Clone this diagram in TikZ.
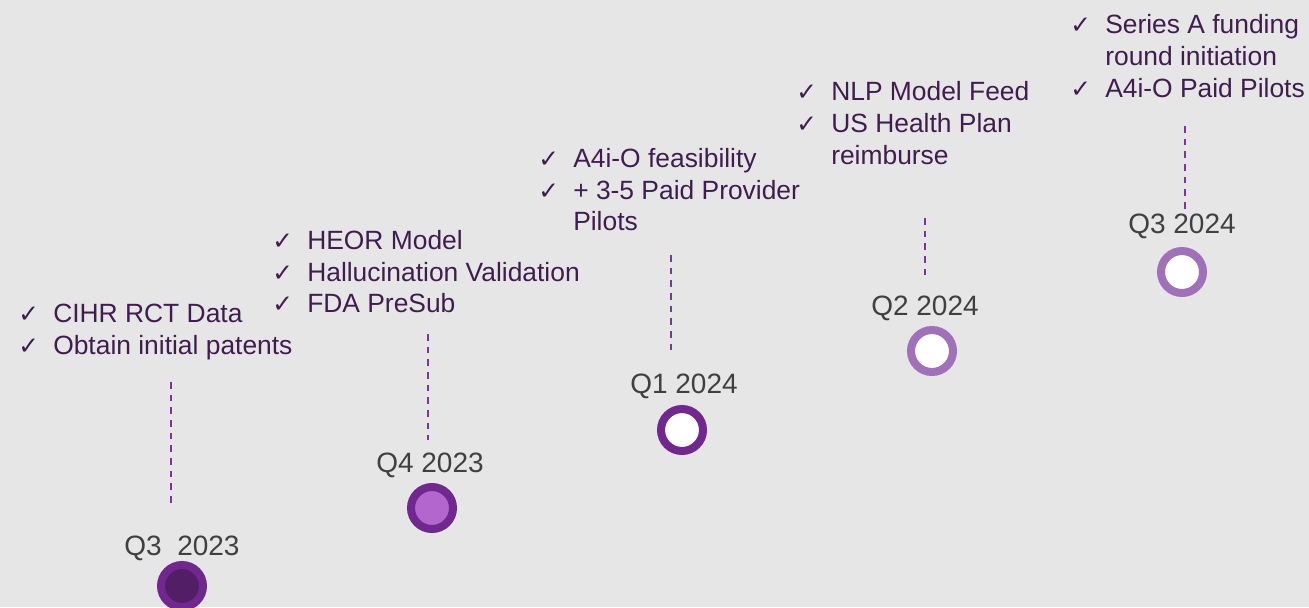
\documentclass[tikz,border=0pt]{standalone}
\usepackage{fontspec}
\setmainfont{Liberation Sans}
\newfontfamily\dejavu{DejaVu Sans}
\definecolor{bgc}{HTML}{E7E6E6}
\definecolor{txt}{HTML}{3F1D4F}
\definecolor{lbl}{HTML}{404040}
\definecolor{ring}{HTML}{70278E}
\definecolor{ringlt}{HTML}{A070B8}
\definecolor{dotdark}{HTML}{521E66}
\definecolor{dotlilac}{HTML}{B366CC}
\definecolor{dashc}{HTML}{7A35A0}
\tikzset{
  item/.style={anchor=base west, inner sep=0pt, text=txt, font=\fontsize{19.8}{24}\selectfont},
  chk/.style={anchor=base west, inner sep=0pt, text=txt, font=\dejavu\fontsize{18.5}{22}\selectfont},
  qlabel/.style={anchor=base, inner sep=0pt, text=lbl, font=\fontsize{21}{25}\selectfont},
  dot/.style={circle, inner sep=0pt, minimum size=31.5pt, line width=6pt},
  guide/.style={draw=dashc, line width=1.5pt, dash pattern=on 5pt off 4.5pt},
}
\begin{document}
\begin{tikzpicture}[x=0.75pt,y=-0.75pt]
\fill[bgc] (0,0) rectangle (1309,607);
\useasboundingbox (0,0) rectangle (1309,607);

% group 1
\node[chk] (c1a) at (18,322) {✓};
\node[item] (t1a) at (53,322) {CIHR RCT Data};
\node[chk] (c1b) at (18,354) {✓};
\node[item] (t1b) at (53,354) {Obtain initial patents};
\coordinate (d1s) at (171,382);
\coordinate (d1e) at (171,508);
\draw[guide] (d1s) -- (d1e);
\node[qlabel] (q1) at (182,555) {Q3\ \ 2023};
\node[dot, draw=ring, fill=dotdark] (m1) at (182,586) {};

% group 2
\node[chk] (c2a) at (272,249) {✓};
\node[item] (t2a) at (307,249) {HEOR Model};
\node[chk] (c2b) at (272,281) {✓};
\node[item] (t2b) at (307,281) {Hallucination Validation};
\node[chk] (c2c) at (272,312) {✓};
\node[item] (t2c) at (307,312) {FDA PreSub};
\coordinate (d2s) at (428,334);
\coordinate (d2e) at (428,440);
\draw[guide] (d2s) -- (d2e);
\node[qlabel] (q2) at (430,472) {Q4 2023};
\node[dot, draw=ring, fill=dotlilac] (m2) at (432,508) {};

% group 3
\node[chk] (c3a) at (538,167) {✓};
\node[item] (t3a) at (573,167) {A4i-O feasibility};
\node[chk] (c3b) at (538,199) {✓};
\node[item] (t3b) at (573,199) {+ 3-5 Paid Provider};
\node[item] (t3c) at (573,230) {Pilots};
\coordinate (d3s) at (671,255);
\coordinate (d3e) at (671,354);
\draw[guide] (d3s) -- (d3e);
\node[qlabel] (q3) at (684,393) {Q1 2024};
\node[dot, draw=ring, fill=white] (m3) at (682,430) {};

% group 4
\node[chk] (c4a) at (796,100) {✓};
\node[item] (t4a) at (831,100) {NLP Model Feed};
\node[chk] (c4b) at (796,132) {✓};
\node[item] (t4b) at (831,132) {US Health Plan};
\node[item] (t4c) at (831,164) {reimburse};
\coordinate (d4s) at (925,218);
\coordinate (d4e) at (925,278);
\draw[guide] (d4s) -- (d4e);
\node[qlabel] (q4) at (925,315) {Q2 2024};
\node[dot, draw=ringlt, fill=white] (m4) at (932,351) {};

% group 5
\node[chk] (c5a) at (1070,33) {✓};
\node[item] (t5a) at (1105,33) {Series A funding};
\node[item] (t5b) at (1105,65) {round initiation};
\node[chk] (c5c) at (1070,97) {✓};
\node[item] (t5c) at (1105,97) {A4i-O Paid Pilots};
\coordinate (d5s) at (1185,126);
\coordinate (d5e) at (1185,212);
\draw[guide] (d5s) -- (d5e);
\node[qlabel] (q5) at (1182,233) {Q3 2024};
\node[dot, draw=ringlt, fill=white] (m5) at (1182,272) {};
\end{tikzpicture}
\end{document}
